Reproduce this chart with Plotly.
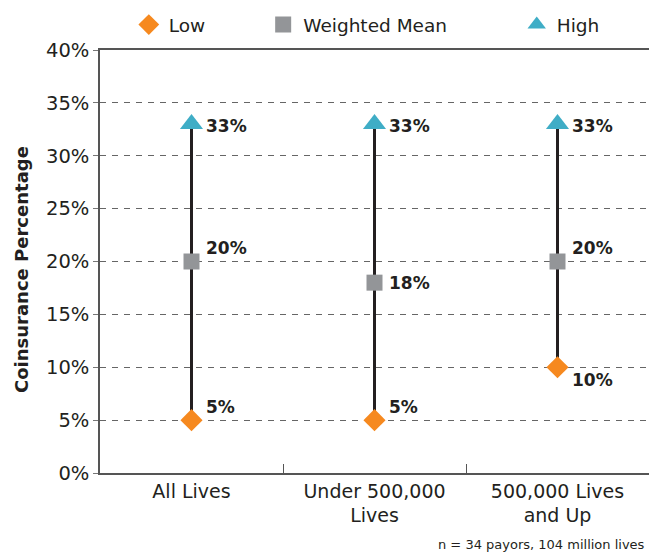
import plotly.graph_objects as go

# Coinsurance ranges by payor size
categories = ["All Lives", "Under 500,000<br>Lives", "500,000 Lives<br>and Up"]
low_values = [5, 5, 10]
mean_values = [20, 18, 20]
high_values = [33, 33, 33]
y_ticks = [0, 5, 10, 15, 20, 25, 30, 35, 40]
y_tick_labels = [f"{v}%" for v in y_ticks]

FONT = "DejaVu Sans"
TEXT = "#231F20"
ORANGE = "#F6891F"
GRAY = "#939598"
TEAL = "#3FADC6"
PAD = "\u00a0"

fig = go.Figure()

# vertical range lines (low to high) for each category
line_x, line_y = [], []
for c, lo, hi in zip(categories, low_values, high_values):
    line_x += [c, c, None]
    line_y += [lo, hi, None]
fig.add_trace(go.Scatter(x=line_x, y=line_y, mode="lines",
                         line=dict(color=TEXT, width=3),
                         showlegend=False, hoverinfo="skip"))

fig.add_trace(go.Scatter(x=categories, y=low_values, mode="markers", name="Low" + PAD * 9,
                         marker=dict(symbol="diamond", size=17, color=ORANGE)))
fig.add_trace(go.Scatter(x=categories, y=mean_values, mode="markers",
                         name="Weighted Mean" + PAD * 11,
                         marker=dict(symbol="square", size=16, color=GRAY)))
fig.add_trace(go.Scatter(x=categories, y=high_values, mode="markers", name="High",
                         marker=dict(symbol="triangle-up", size=20, color=TEAL)))

# value labels: vertical nudge per series/category
low_shift = [13, 13, -13]
mean_shift = [14, 0, 14]
high_shift = [-2, -2, -2]
annotations = []
for values, shifts in ((low_values, low_shift), (mean_values, mean_shift),
                       (high_values, high_shift)):
    for c, v, s in zip(categories, values, shifts):
        annotations.append(dict(x=c, y=v, text=f"<b>{v}%</b>", showarrow=False,
                                xanchor="left", yanchor="middle", xshift=12, yshift=s,
                                font=dict(family=FONT, size=17, color=TEXT)))

annotations.append(dict(xref="paper", yref="paper", x=-0.142, y=0.48,
                        text="<b>Coinsurance Percentage</b>", textangle=-90,
                        showarrow=False, xanchor="center", yanchor="middle",
                        font=dict(family=FONT, size=18, color=TEXT)))
annotations.append(dict(xref="paper", yref="paper", x=0.997, y=-0.17,
                        text="n = 34 payors, 104 million lives", showarrow=False,
                        xanchor="right", yanchor="middle",
                        font=dict(family=FONT, size=13, color=TEXT)))

fig.update_layout(
    width=651, height=554,
    margin=dict(l=100, r=2, t=50, b=81),
    paper_bgcolor="white", plot_bgcolor="white",
    font=dict(family=FONT, size=18, color=TEXT),
    showlegend=True,
    legend=dict(orientation="h", x=0.486, xanchor="center", y=1.059, yanchor="middle",
                font=dict(family=FONT, size=18.5, color=TEXT)),
    annotations=annotations,
)

fig.update_xaxes(
    type="category", categoryorder="array", categoryarray=categories,
    range=[-0.5, 2.5],
    showline=True, linecolor="#555555", linewidth=1.5, mirror=True,
    ticks="inside", tickson="boundaries", ticklen=9, tickcolor="#555555", tickwidth=1,
    showgrid=False, tickfont=dict(family=FONT, size=19, color=TEXT),
)
fig.update_yaxes(
    range=[0, 40], tickvals=y_ticks, ticktext=y_tick_labels,
    showline=True, linecolor="#555555", linewidth=1.5,
    ticks="outside", ticklen=5, tickcolor="#777777",
    showgrid=True, gridcolor="#666666", gridwidth=1.2, griddash="6px,6px",
    zeroline=False, tickfont=dict(family=FONT, size=19.5, color=TEXT),
)

fig.write_html("out.html")
